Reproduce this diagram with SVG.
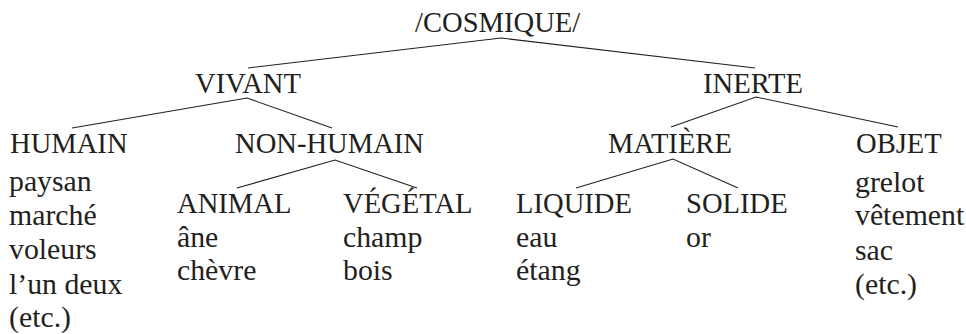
<svg xmlns="http://www.w3.org/2000/svg" width="966" height="334" viewBox="0 0 966 334">
<style>
text{font-family:"Liberation Serif","Tinos","Times New Roman","DejaVu Serif",serif;font-size:28.6px;fill:#231f20}
text.w{font-size:29.8px}
.e{stroke:#231f20;stroke-width:1.1;fill:none}
</style>
<rect width="966" height="334" fill="#fff"/>
<g id="connectors">
<polyline class="e" points="248,68 501,38 755,68"/>
<polyline class="e" points="72,128 247,98 332,128"/>
<polyline class="e" points="671,127 756,97 898,127"/>
<polyline class="e" points="237,188 335,160 417,188"/>
<polyline class="e" points="576,188 673,159 738,188"/>
</g>
<g id="cosmique"><text x="415" y="32">/COSMIQUE/</text></g>
<g id="vivant"><text x="195" y="93">VIVANT</text></g>
<g id="inerte"><text x="703" y="93">INERTE</text></g>
<g id="humain"><text x="10" y="153">HUMAIN</text>
<text class="w" x="9" y="191">paysan</text><text class="w" x="9" y="225">marché</text><text class="w" x="9" y="259">voleurs</text><text class="w" x="9" y="294">l’un deux</text><text class="w" x="9" y="327">(etc.)</text></g>
<g id="non-humain"><text x="235" y="153">NON-HUMAIN</text></g>
<g id="matiere"><text x="608" y="153">MATIÈRE</text></g>
<g id="objet"><text x="856" y="153">OBJET</text>
<text class="w" x="855" y="192">grelot</text><text class="w" x="855" y="225">vêtement</text><text class="w" x="855" y="260">sac</text><text class="w" x="855" y="294">(etc.)</text></g>
<g id="animal"><text x="177" y="213">ANIMAL</text><text class="w" x="177" y="247">âne</text><text class="w" x="177" y="280">chèvre</text></g>
<g id="vegetal"><text x="343" y="213">VÉGÉTAL</text><text class="w" x="343" y="247">champ</text><text class="w" x="343" y="280">bois</text></g>
<g id="liquide"><text x="516" y="213">LIQUIDE</text><text class="w" x="516" y="247">eau</text><text class="w" x="516" y="280">étang</text></g>
<g id="solide"><text x="686" y="213">SOLIDE</text><text class="w" x="686" y="247">or</text></g>
</svg>
